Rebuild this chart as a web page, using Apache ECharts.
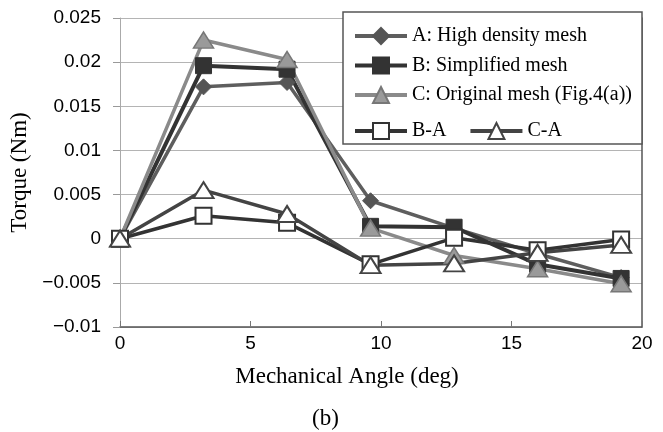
<!DOCTYPE html>
<html>
<head>
<meta charset="utf-8">
<script src="https://cdn.jsdelivr.net/npm/echarts@6/dist/echarts.min.js"></script>
<style>html,body{margin:0;padding:0;background:#fff}#c{width:663px;height:432px}</style>
</head>
<body>
<div id="c"></div>
<script>
const angles = [0, 3.2, 6.4, 9.6, 12.8, 16, 19.2];
const seriesA = [0, 0.0172, 0.0177, 0.0043, 0.0012, -0.0017, -0.0044];
const seriesB = [0, 0.0196, 0.0192, 0.0014, 0.0013, -0.0029, -0.0045];
const seriesC = [0, 0.0225, 0.0203, 0.0012, -0.0019, -0.0034, -0.0051];
const seriesBA = [0, 0.0026, 0.0018, -0.0029, 0.0001, -0.0013, -0.0001];
const seriesCA = [0, 0.0055, 0.0028, -0.0030, -0.0028, -0.0016, -0.0007];
const names = ['A: High density mesh', 'B: Simplified mesh', 'C: Original mesh (Fig.4(a))', 'B-A', 'C-A'];
const xTicks = {min: 0, max: 20, interval: 5};
const yTicks = {min: -0.01, max: 0.025, interval: 0.005};
const captionText = '(b)';

function pairs(vals) { return angles.map((a, i) => [a, vals[i]]); }

const serif = '"Liberation Serif", "Times New Roman", serif';
const sans = '"Liberation Sans", Arial, sans-serif';

function mk(name, vals, opts) {
  return Object.assign({
    name: name, type: 'line', data: pairs(vals), z: 2,
    symbolKeepAspect: false
  }, opts);
}

const legendCommon = {
  itemWidth: 52, itemHeight: 20, z: 10,
  lineStyle: {width: 4},
  textStyle: {fontFamily: serif, fontSize: 20, color: '#000', lineHeight: 20}
};

const chart = echarts.init(document.getElementById('c'), null, {renderer: 'canvas'});
chart.setOption({
  animation: false,
  backgroundColor: '#fff',
  title: {
    text: captionText, left: 312, top: 407,
    textStyle: {fontFamily: serif, fontSize: 23, fontWeight: 'normal', color: '#000'},
    padding: 0
  },
  grid: {left: 120, right: 21, top: 18, bottom: 105, containLabel: false},
  xAxis: {
    type: 'value', min: xTicks.min, max: xTicks.max, interval: xTicks.interval,
    name: 'Mechanical Angle (deg)', nameLocation: 'middle', nameGap: 38,
    nameTextStyle: {fontFamily: serif, fontSize: 23, color: '#000', padding: [0, 68, 0, 0]},
    axisLine: {show: true, onZero: false, lineStyle: {color: '#555', width: 1.5}},
    axisTick: {show: true, inside: true, length: 6, lineStyle: {color: '#777'}},
    axisLabel: {fontFamily: sans, fontSize: 19, color: '#000', margin: 7},
    splitLine: {show: false}
  },
  yAxis: [{
    type: 'value', min: yTicks.min, max: yTicks.max, interval: yTicks.interval,
    name: 'Torque (Nm)', nameLocation: 'middle', nameGap: 86,
    nameTextStyle: {fontFamily: serif, fontSize: 23, color: '#000'},
    axisLine: {show: true, onZero: false, lineStyle: {color: '#aaa', width: 1}},
    axisTick: {show: true, inside: false, length: 7, lineStyle: {color: '#999'}},
    axisLabel: {fontFamily: sans, fontSize: 19, color: '#000', margin: 19,
      formatter: v => String(+v.toFixed(4)).replace('-', '\u2212')},
    splitLine: {show: true, lineStyle: {color: '#b4b4b4', width: 1}}
  }, {
    type: 'value', min: yTicks.min, max: yTicks.max, interval: yTicks.interval, position: 'right',
    axisLine: {show: true, onZero: false, lineStyle: {color: '#555', width: 1.5}},
    axisTick: {show: false}, axisLabel: {show: false}, splitLine: {show: false}
  }],
  graphic: [{
    type: 'rect', z: 5, shape: {x: 343, y: 12, width: 299, height: 132},
    style: {fill: '#fff', stroke: '#555', lineWidth: 1.5}
  }],
  legend: [Object.assign({}, legendCommon, {
    data: names.slice(0, 3), orient: 'vertical', left: 348, top: 21, itemGap: 9.5
  }), Object.assign({}, legendCommon, {
    data: names.slice(3), orient: 'horizontal', left: 348, top: 116, itemGap: 22
  })],
  series: [
    mk(names[0], seriesA, {symbol: 'diamond', symbolSize: 16,
      lineStyle: {color: '#5e5e5e', width: 3.5},
      itemStyle: {color: '#555', borderColor: '#555', borderWidth: 1}}),
    mk(names[1], seriesB, {symbol: 'rect', symbolSize: 16,
      lineStyle: {color: '#333', width: 4},
      itemStyle: {color: '#333', borderColor: '#333', borderWidth: 1}}),
    mk(names[2], seriesC, {symbol: 'triangle', symbolSize: [20, 16],
      lineStyle: {color: '#8a8a8a', width: 3.5},
      itemStyle: {color: '#9a9a9a', borderColor: '#777', borderWidth: 1.5}}),
    mk(names[3], seriesBA, {symbol: 'rect', symbolSize: 16,
      lineStyle: {color: '#333', width: 3.5},
      itemStyle: {color: '#fff', borderColor: '#333', borderWidth: 2}}),
    mk(names[4], seriesCA, {symbol: 'triangle', symbolSize: [20, 16],
      lineStyle: {color: '#444', width: 3.5},
      itemStyle: {color: '#fff', borderColor: '#444', borderWidth: 2}})
  ]
});
</script>
</body>
</html>
